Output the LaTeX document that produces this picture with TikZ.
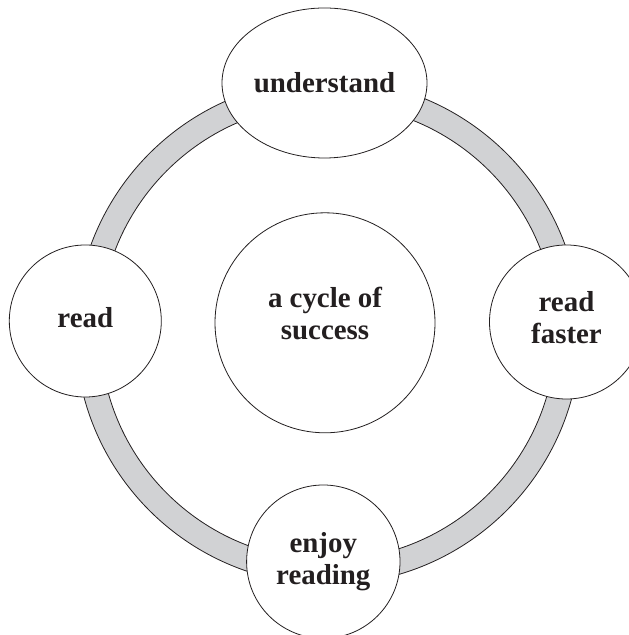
\documentclass[tikz,border=0pt]{standalone}
\usepackage{fontspec}
\setmainfont{Liberation Serif}
\usetikzlibrary{shapes.geometric}
\definecolor{ink}{RGB}{35,31,32}
\definecolor{band}{RGB}{209,210,212}
\tikzset{
	bubble/.style={circle, draw=ink, line width=0.8bp, fill=white, inner sep=0pt, align=center, text=ink, font=\fontsize{29}{32}\selectfont\bfseries},
	oval/.style={bubble, ellipse},
}

\begin{document}
\begin{tikzpicture}[x=1bp, y=1bp]
		%%%%% START %%%%%
		
		\useasboundingbox (0, 0) rectangle (629, 635);
		
		% the grey band of the cycle
		\draw[line width=0.8bp, draw=ink, fill=band, even odd rule] (328, 303) circle (252.5) (328, 303) circle (228);
		
		\node[bubble, minimum size=220bp, text depth=18.8bp] (success) at (325, 312.2) {a cycle of\\success};
		
		\node[oval, minimum width=205bp, minimum height=150bp] (understand) at (324.5, 552) {understand};
		\node[bubble, minimum size=154bp, text depth=9bp] (faster) at (566.5, 313) {read\\faster};
		\node[bubble, minimum size=153.4bp] (enjoy) at (323.3, 73.3) {enjoy\\reading};
		\node[bubble, minimum size=152bp, text depth=6.8bp] (read) at (85.3, 314) {read};
		
		%%%%% END %%%%%
\end{tikzpicture}
\end{document}
